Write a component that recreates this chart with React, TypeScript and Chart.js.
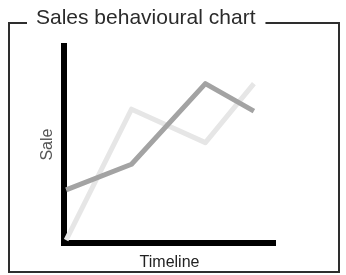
import React, { useEffect, useRef } from "react";
import { Chart, registerables } from "chart.js";

Chart.register(...registerables);

const titleText = "Sales behavioural chart";
const xTitle = "Timeline";
const yTitle = "Sale";

const timeline = [1, 32, 67, 90];
const salesDark = [27, 40, 81, 67];
const salesLight = [1.5, 68, 51, 81];

const framePlugin = {
  id: "frame",
  beforeDraw(chart: any) {
    const ctx = chart.ctx;
    ctx.save();
    ctx.strokeStyle = "#2e2e2e";
    ctx.lineWidth = 2;
    ctx.lineCap = "butt";
    ctx.font = "21px 'Liberation Sans', Arial, sans-serif";
    const w = ctx.measureText(titleText).width;
    const left = 9;
    const right = 339;
    const top = 23;
    const bottom = 272;
    ctx.beginPath();
    ctx.moveTo(27, top);
    ctx.lineTo(left, top);
    ctx.lineTo(left, bottom);
    ctx.lineTo(right, bottom);
    ctx.lineTo(right, top);
    ctx.lineTo(36 + w + 10, top);
    ctx.stroke();
    ctx.restore();
  },
};

export default function App() {
  const ref = useRef<HTMLCanvasElement>(null);
  useEffect(() => {
    if (!ref.current) return;
    const chart = new Chart(ref.current, {
      type: "line",
      data: {
        datasets: [
          {
            data: timeline.map((x, i) => ({ x, y: salesDark[i] })),
            borderColor: "#a3a3a3",
            borderWidth: 5,
            pointRadius: 0,
            borderJoinStyle: "round",
            tension: 0,
          },
          {
            data: timeline.map((x, i) => ({ x, y: salesLight[i] })),
            borderColor: "#e6e6e6",
            borderWidth: 5,
            pointRadius: 0,
            borderJoinStyle: "round",
            tension: 0,
          },
        ],
      },
      options: {
        animation: false,
        responsive: false,
        layout: { padding: { left: 36, right: 71, top: 0, bottom: 0 } },
        plugins: {
          legend: { display: false },
          tooltip: { enabled: false },
          title: {
            display: true,
            text: titleText,
            align: "start",
            color: "#2b2b2b",
            font: { family: "'Liberation Sans', Arial, sans-serif", size: 21, weight: "normal" },
            padding: { top: 6, bottom: 15 },
          },
        },
        scales: {
          x: {
            type: "linear",
            min: 0,
            max: 100,
            grid: { display: false },
            ticks: { display: false },
            border: { display: true, color: "#000", width: 6 },
            title: {
              display: true,
              text: xTitle,
              color: "#222",
              font: { family: "'Liberation Sans', Arial, sans-serif", size: 16 },
              padding: { top: 0, bottom: 3 },
            },
            afterFit(scale: any) {
              scale.height = 32;
            },
          },
          y: {
            min: 0,
            max: 100,
            grid: { display: false },
            ticks: { display: false },
            border: { display: true, color: "#000", width: 6 },
            title: {
              display: true,
              text: yTitle,
              color: "#555",
              font: { family: "'Liberation Sans', Arial, sans-serif", size: 16 },
              padding: { top: 2, bottom: 0 },
            },
            afterFit(scale: any) {
              scale.width = 28;
            },
          },
        },
      },
      plugins: [framePlugin],
    });
    return () => chart.destroy();
  }, []);
  return (
    <div style={{ position: "fixed", left: 0, top: 0, width: 346, height: 275, background: "#fff" }}>
      <canvas ref={ref} width={346} height={275} style={{ display: "block" }} />
    </div>
  );
}
